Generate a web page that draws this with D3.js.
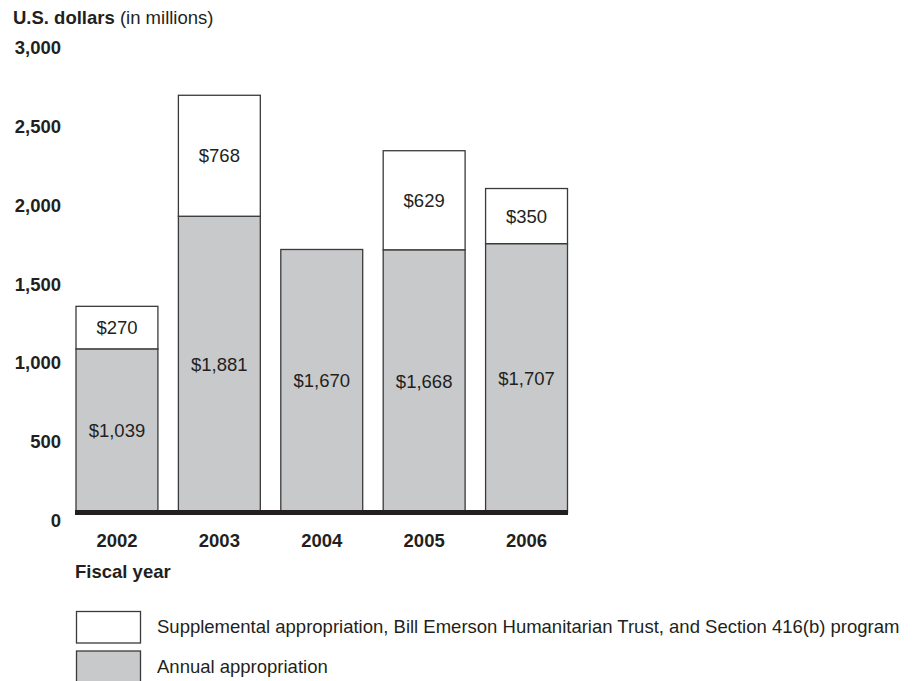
<!DOCTYPE html>
<html>
<head>
<meta charset="utf-8">
<script src="https://cdn.jsdelivr.net/npm/d3@7"></script>
<style>
  html, body { margin: 0; padding: 0; background: #fff; }
  svg { display: block; font-family: "Liberation Sans", Arial, Helvetica, sans-serif; }
</style>
</head>
<body>
<svg id="chart" width="918" height="681"></svg>
<script>
// Fiscal years and appropriations, U.S. dollars in millions
const years = ["2002", "2003", "2004", "2005", "2006"];
const annual = [1039, 1881, 1670, 1668, 1707];
const supplemental = [270, 768, 0, 629, 350];
const yTicks = [0, 500, 1000, 1500, 2000, 2500, 3000];
const legendLabels = [
  "Supplemental appropriation, Bill Emerson Humanitarian Trust, and Section 416(b) program",
  "Annual appropriation"
];

const ink = "#231f20";
const grayFill = "#c8c9cb";
const edge = "#3a3a3a";
const fs = "18.5px";

const svg = d3.select("#chart");

const x = d3.scaleBand().domain(years).range([76, 567.5]).paddingInner(0.2).paddingOuter(0);
const y = d3.scaleLinear().domain([0, 3000]).range([512.5, 40]);

const fmt = v => "$" + d3.format(",")(v);

// Axis title
const title = svg.append("text").attr("x", 13).attr("y", 24).attr("fill", ink).style("font-size", fs);
title.append("tspan").attr("font-weight", "bold").text("U.S. dollars");
title.append("tspan").text(" (in millions)");

// Y axis: labels only, no line or tick marks
const yAxis = d3.axisLeft(y).tickValues(yTicks).tickSize(0).tickPadding(0).tickFormat(d3.format(","));
svg.append("g")
  .attr("transform", "translate(61,8)")
  .call(yAxis)
  .call(g => g.select(".domain").remove())
  .call(g => g.selectAll("text")
    .attr("fill", ink)
    .attr("font-weight", "bold")
    .style("font-size", fs)
    .style("font-family", "'Liberation Sans', Arial, sans-serif"));

const rows = years.map((yr, i) => ({ year: yr, annual: annual[i], supp: supplemental[i] }));

const bars = svg.append("g");

// Annual appropriation (gray, bottom segment)
bars.selectAll("rect.annual").data(rows).join("rect")
  .attr("class", "annual")
  .attr("x", d => x(d.year))
  .attr("width", x.bandwidth())
  .attr("y", d => y(d.annual))
  .attr("height", d => y(0) - y(d.annual))
  .attr("fill", grayFill)
  .attr("stroke", edge)
  .attr("stroke-width", 1.3);

// Supplemental funding (white, stacked on top)
bars.selectAll("rect.supp").data(rows.filter(d => d.supp > 0)).join("rect")
  .attr("class", "supp")
  .attr("x", d => x(d.year))
  .attr("width", x.bandwidth())
  .attr("y", d => y(d.annual + d.supp))
  .attr("height", d => y(d.annual) - y(d.annual + d.supp))
  .attr("fill", "#fff")
  .attr("stroke", edge)
  .attr("stroke-width", 1.3);

// Value labels centred in each segment
const labels = svg.append("g").attr("fill", ink).style("font-size", fs).attr("text-anchor", "middle");
labels.selectAll("text.a").data(rows).join("text")
  .attr("x", d => x(d.year) + x.bandwidth() / 2)
  .attr("y", d => (y(0) + y(d.annual)) / 2)
  .attr("dy", "0.35em")
  .text(d => fmt(d.annual));
labels.selectAll("text.s").data(rows.filter(d => d.supp > 0)).join("text")
  .attr("x", d => x(d.year) + x.bandwidth() / 2)
  .attr("y", d => (y(d.annual) + y(d.annual + d.supp)) / 2)
  .attr("dy", "0.35em")
  .text(d => fmt(d.supp));

// Heavy baseline
svg.append("line")
  .attr("x1", 75).attr("x2", 568)
  .attr("y1", y(0)).attr("y2", y(0))
  .attr("stroke", ink).attr("stroke-width", 5);

// X axis: year labels
const xAxis = d3.axisBottom(x).tickSize(0).tickPadding(0);
svg.append("g")
  .attr("transform", `translate(0,${y(0) + 21})`)
  .call(xAxis)
  .call(g => g.select(".domain").remove())
  .call(g => g.selectAll("text")
    .attr("fill", ink)
    .attr("font-weight", "bold")
    .style("font-size", fs)
    .style("font-family", "'Liberation Sans', Arial, sans-serif"));

svg.append("text")
  .attr("x", 75).attr("y", 578)
  .attr("fill", ink).attr("font-weight", "bold").style("font-size", fs)
  .text("Fiscal year");

// Legend
const legendFills = ["#fff", grayFill];
const legend = svg.append("g");
legendLabels.forEach((lab, i) => {
  const top = 611.5 + i * 39.5;
  legend.append("rect")
    .attr("x", 76.5).attr("y", top)
    .attr("width", 64).attr("height", 31.5)
    .attr("fill", legendFills[i]).attr("stroke", edge).attr("stroke-width", 1.3);
  legend.append("text")
    .attr("x", 157).attr("y", top + 15.5).attr("dy", "0.35em")
    .attr("fill", ink).style("font-size", fs)
    .text(lab);
});
</script>
</body>
</html>
